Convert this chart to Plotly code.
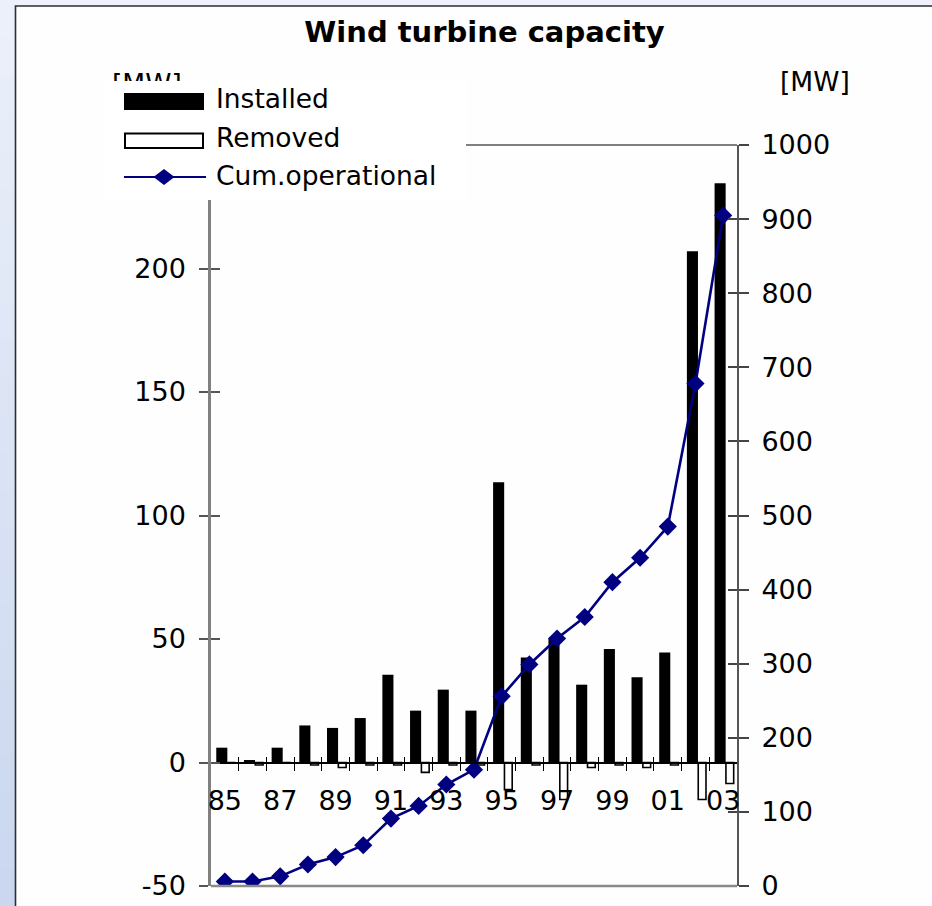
import plotly.graph_objects as go

# ---------------- data ----------------
years = ["85", "86", "87", "88", "89", "90", "91", "92", "93", "94",
         "95", "96", "97", "98", "99", "00", "01", "02", "03"]
installed = [6, 1, 6, 15, 14, 18, 35.5, 21, 29.5, 21,
             113.5, 42.5, 50, 31.5, 46, 34.5, 44.5, 207, 234.5]
removed = [0, -1, 0, -1, -2, -1, -1, -4, -1, -1,
           -11, -1, -15, -2, -1, -2, -1, -15, -8.5]
cumulative = [6, 6, 13, 29, 39, 55, 91, 108, 137, 157,
              256, 299, 334, 363, 410, 443, 485, 678, 905]
left_ticks = [-50, 0, 50, 100, 150, 200]
left_tick_text = ["-50", "0", "50", "100", "150", "200"]
right_ticks = [0, 100, 200, 300, 400, 500, 600, 700, 800, 900, 1000]
x_labels = years[::2]

# ---------------- geometry helpers ----------------
W, H = 932, 906
L, R, T, B = 211, 195, 145, 20
PW, PH = W - L - R, H - T - B


def px(x):
    return (x - L) / PW


def py(y):
    return (H - B - y) / PH


FONT = "DejaVu Sans"
NAVY = "#000080"
n = len(years)
boundaries = [i + 0.5 for i in range(n - 1)]

fig = go.Figure()
fig.add_trace(go.Bar(x=years, y=installed, name="Installed",
                     marker=dict(color="black", line=dict(width=0)),
                     offset=-0.31, width=0.4, showlegend=False))
fig.add_trace(go.Bar(x=years, y=removed, name="Removed",
                     marker=dict(color="white", line=dict(color="black", width=1.6)),
                     offset=0.1, width=0.28, showlegend=False))
fig.add_trace(go.Scatter(x=years, y=cumulative, name="Cum.operational", yaxis="y2",
                         mode="lines+markers",
                         line=dict(color=NAVY, width=2.6),
                         marker=dict(symbol="diamond", size=14, color=NAVY),
                         showlegend=False))
# helper traces so the tick-only overlay axes exist
for xa, ya in [("x2", "y"), ("x3", "y"), ("x", "y3"), ("x", "y4")]:
    fig.add_trace(go.Scatter(x=[None], y=[None], xaxis=xa, yaxis=ya,
                             showlegend=False, hoverinfo="skip"))

tickfont = dict(family=FONT, size=27, color="black")

shapes = []
# light blue backdrop (stepped gradient on the left strip)
top_c = (235, 240, 250)
bot_c = (202, 215, 238)
nb = 24
for i in range(nb):
    t = i / (nb - 1)
    c = tuple(int(round(top_c[k] + (bot_c[k] - top_c[k]) * t)) for k in range(3))
    shapes.append(dict(type="rect", xref="paper", yref="paper", layer="below",
                       x0=px(-5), x1=px(15.5), y0=py(i * H / nb), y1=py((i + 1) * H / nb + 1),
                       fillcolor="rgb(%d,%d,%d)" % c, line=dict(width=0)))
shapes.append(dict(type="rect", xref="paper", yref="paper", layer="below",
                   x0=px(15), x1=px(W + 20), y0=py(-5), y1=py(6),
                   fillcolor="rgb(238,242,251)", line=dict(width=0)))
# white chart area with dark border
shapes.append(dict(type="rect", xref="paper", yref="paper", layer="below",
                   x0=px(15.5), x1=px(W + 30), y0=py(H + 30), y1=py(6),
                   fillcolor="#fefefe", line=dict(color="#2e2e2e", width=1.6)))
# plot frame lines
shapes.append(dict(type="line", xref="paper", yref="paper", layer="above",
                   x0=0, x1=1, y0=1, y1=1, line=dict(color="#808080", width=2)))
shapes.append(dict(type="line", xref="paper", yref="paper", layer="above",
                   x0=0, x1=1, y0=0, y1=0, line=dict(color="#8a8a8a", width=2.5)))
# legend box
shapes.append(dict(type="rect", xref="paper", yref="paper", layer="above",
                   x0=px(105), x1=px(466), y0=py(200), y1=py(80),
                   fillcolor="white", line=dict(width=0)))
shapes.append(dict(type="rect", xref="paper", yref="paper", layer="above",
                   x0=px(124), x1=px(204), y0=py(110), y1=py(93),
                   fillcolor="black", line=dict(width=0)))
shapes.append(dict(type="rect", xref="paper", yref="paper", layer="above",
                   x0=px(125), x1=px(203), y0=py(148), y1=py(133.5),
                   fillcolor="white", line=dict(color="black", width=2)))
shapes.append(dict(type="line", xref="paper", yref="paper", layer="above",
                   x0=px(124), x1=px(206), y0=py(177), y1=py(177),
                   line=dict(color=NAVY, width=2)))
cx, cy, hw, hh = 164, 177, 10.5, 8
shapes.append(dict(type="path", xref="paper", yref="paper", layer="above",
                   path="M %f,%f L %f,%f L %f,%f L %f,%f Z" % (
                       px(cx - hw), py(cy), px(cx), py(cy - hh),
                       px(cx + hw), py(cy), px(cx), py(cy + hh)),
                   fillcolor=NAVY, line=dict(width=0)))

annos = []
legfont = dict(family=FONT, size=26.5, color="black")
for text, yc in [("Installed", 98.5), ("Removed", 137.5), ("Cum.operational", 175.5)]:
    annos.append(dict(xref="paper", yref="paper", x=px(214), y=py(yc),
                      xanchor="left", yanchor="middle", text=text,
                      showarrow=False, font=legfont))
annos.append(dict(xref="paper", yref="paper", x=px(815), y=py(81),
                  xanchor="center", yanchor="middle", text="[MW]",
                  showarrow=False, font=legfont))
annos.append(dict(xref="paper", yref="paper", x=px(147), y=py(66),
                  xanchor="center", yanchor="top", text="[MW]", height=13,
                  valign="top", showarrow=False, font=legfont))

fig.update_layout(
    width=W, height=H, autosize=False,
    margin=dict(l=L, r=R, t=T, b=B, pad=0, autoexpand=False),
    paper_bgcolor="rgb(228,234,246)",
    plot_bgcolor="rgba(0,0,0,0)",
    barmode="overlay",
    title=dict(text="Wind turbine capacity", x=484.5 / W, xanchor="center",
               y=1 - 32 / H, yanchor="middle", xref="container", yref="container",
               font=dict(family=FONT, size=29, color="black", weight="bold")),
    xaxis=dict(type="category", range=[-0.5, n - 0.5], anchor="free", position=50 / 300,
               showline=True, linecolor="black", linewidth=1.5,
               tickmode="array", tickvals=x_labels, ticktext=x_labels, ticks="",
               ticklabelstandoff=14, tickfont=tickfont, automargin=False,
               showgrid=False, zeroline=False),
    xaxis2=dict(overlaying="x", anchor="free", position=50 / 300, type="linear",
                range=[-0.5, n - 0.5], tickmode="array", tickvals=boundaries,
                ticks="outside", ticklen=7, tickcolor="black", tickwidth=1,
                showticklabels=False, showline=False, showgrid=False, zeroline=False,
                side="bottom", automargin=False),
    xaxis3=dict(overlaying="x", anchor="free", position=50 / 300, type="linear",
                range=[-0.5, n - 0.5], tickmode="array", tickvals=boundaries,
                ticks="inside", ticklen=6, tickcolor="black", tickwidth=1,
                showticklabels=False, showline=False, showgrid=False, zeroline=False,
                side="bottom", automargin=False),
    yaxis=dict(range=[-50, 250], tickmode="array", tickvals=left_ticks,
               ticktext=left_tick_text,
               ticks="outside", ticklen=9, tickcolor="#555555", tickwidth=1.5,
               showline=True, linecolor="#808080", linewidth=2.5,
               showgrid=False, zeroline=False, tickfont=tickfont,
               ticklabelstandoff=8, anchor="x", automargin=False),
    yaxis2=dict(overlaying="y", side="right", anchor="x", range=[0, 1000],
                tickmode="array", tickvals=right_ticks,
                ticks="outside", ticklen=10, tickcolor="#444444", tickwidth=1.5,
                showline=True, linecolor="#555555", linewidth=2,
                showgrid=False, zeroline=False, tickfont=tickfont,
                ticklabelstandoff=7, automargin=False),
    yaxis3=dict(overlaying="y", side="left", anchor="x", range=[-50, 250],
                tickmode="array", tickvals=left_ticks, ticks="inside", ticklen=9,
                tickcolor="#555555", tickwidth=1.5, showticklabels=False,
                showline=False, showgrid=False, zeroline=False, automargin=False),
    yaxis4=dict(overlaying="y", side="right", anchor="x", range=[0, 1000],
                tickmode="array", tickvals=right_ticks, ticks="inside", ticklen=9,
                tickcolor="#444444", tickwidth=1.5, showticklabels=False,
                showline=False, showgrid=False, zeroline=False, automargin=False),
    shapes=shapes,
    annotations=annos,
    showlegend=False,
)

fig.write_html("out.html",
               config={"displayModeBar": False, "responsive": False},
               post_script="document.documentElement.style.margin='0';"
                           "document.body.style.margin='0';"
                           "document.body.style.overflow='hidden';")
